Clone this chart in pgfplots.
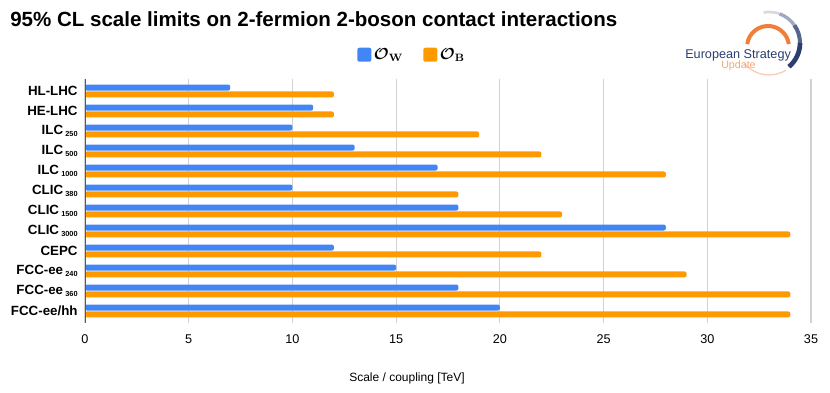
\documentclass[border=0pt]{standalone}
\usepackage[no-math]{fontspec}
\setmainfont{Liberation Sans}
\usepackage{amsmath}
\usepackage{pgfplots}
\pgfplotsset{compat=1.18}
\definecolor{sheetblue}{HTML}{4285F4}
\definecolor{sheetorange}{HTML}{FF9900}
\definecolor{esublue}{HTML}{2C3E70}
\definecolor{esuorange}{HTML}{F07F3C}
\definecolor{esulight}{HTML}{F5A57A}
\newcommand{\sub}[1]{\,\raisebox{-0.35ex}{\fontsize{5.5}{6}\selectfont #1}}

\begin{document}
\begin{tikzpicture}
\useasboundingbox (0,0) rectangle (622.5pt,294pt);
\begin{axis}[
  at={(63.75pt,51.75pt)}, anchor=south west,
  scale only axis, width=544.5pt, height=183pt,
  xbar, bar width=4.5pt,
  xmin=0, xmax=35, ymin=-0.6, ymax=11.6,
  y dir=reverse,
  xtick={0,5,...,35},
  ytick={0,...,11},
  yticklabels={HL-LHC, HE-LHC, ILC\sub{250}, ILC\sub{500}, ILC\sub{1000},
    CLIC\sub{380}, CLIC\sub{1500}, CLIC\sub{3000}, CEPC,
    FCC-ee\sub{240}, FCC-ee\sub{360}, FCC-ee/hh},
  major tick length=0pt,
  axis line style={draw=none},
  xmajorgrids, grid style={black!18, line width=0.8pt},
  /pgf/number format/assume math mode=true,
  xticklabel style={font=\fontsize{9.5}{11}\selectfont, yshift=-5pt},
  yticklabel style={font=\bfseries\fontsize{10}{12}\selectfont, xshift=-2pt},
  legend columns=2,
  legend style={at={(0.451,1.098)}, anchor=center, draw=none, fill=none,
    font=\fontsize{11.5}{13}\selectfont,
    /tikz/every even column/.append style={column sep=13pt}},
  legend image code/.code={\fill[#1] (0pt,-5pt) rectangle (10.5pt,5.5pt);},
]
\addplot[draw=none, fill=sheetblue, bar shift=2.6pt, rounded corners=1.5pt] coordinates {
(7,0) (11,1) (10,2) (13,3) (17,4) (10,5) (18,6) (28,7) (12,8) (15,9) (18,10) (20,11)};
\addlegendentry{$\boldsymbol{\mathcal{O}}_{\mathbf{W}}$}
\addplot[draw=none, fill=sheetorange, bar shift=-2.6pt, rounded corners=1.5pt] coordinates {
(12,0) (12,1) (19,2) (22,3) (28,4) (18,5) (23,6) (34,7) (22,8) (29,9) (34,10) (34,11)};
\addlegendentry{$\boldsymbol{\mathcal{O}}_{\mathbf{B}}$}
\draw[black!65, line width=0.9pt] (rel axis cs:0,0) -- (rel axis cs:0,1);
\end{axis}
\begin{scope}[x=0.75pt,y=0.75pt]
% title and axis label
\node[anchor=base west, font=\bfseries\fontsize{15.4}{18}\selectfont, inner sep=0pt] at (10,365) {95\% CL scale limits on 2-fermion 2-boson contact interactions};
\node[font=\fontsize{9}{11}\selectfont] at (407,14) {Scale / coupling [TeV]};
% logo
\draw[esuorange, line width=3pt] (768,345) ++(172:21) arc[start angle=172, end angle=8, radius=21];
\draw[black!15, line width=2pt] (769,349) ++(100:31) arc[start angle=100, end angle=70, radius=31];
\draw[esublue!45, line width=2.5pt] (769,349) ++(70:31) arc[start angle=70, end angle=35, radius=31];
\draw[esublue!80, line width=3pt] (769,349) ++(35:31) arc[start angle=35, end angle=0, radius=31];
\draw[esublue, line width=3.5pt] (769,349) ++(0:31) arc[start angle=0, end angle=-50, radius=31];
\draw[esulight!55, line width=1pt] (769,349) ++(-58:32) arc[start angle=-58, end angle=-140, radius=32];
\node[anchor=base west, text=esublue, font=\fontsize{9.5}{10}\selectfont, inner sep=0pt] at (685,333) {European Strategy};
\node[anchor=base west, text=esulight, font=\fontsize{8}{9}\selectfont, inner sep=0pt] at (721,323) {Update};
\end{scope}
\end{tikzpicture}
\end{document}
